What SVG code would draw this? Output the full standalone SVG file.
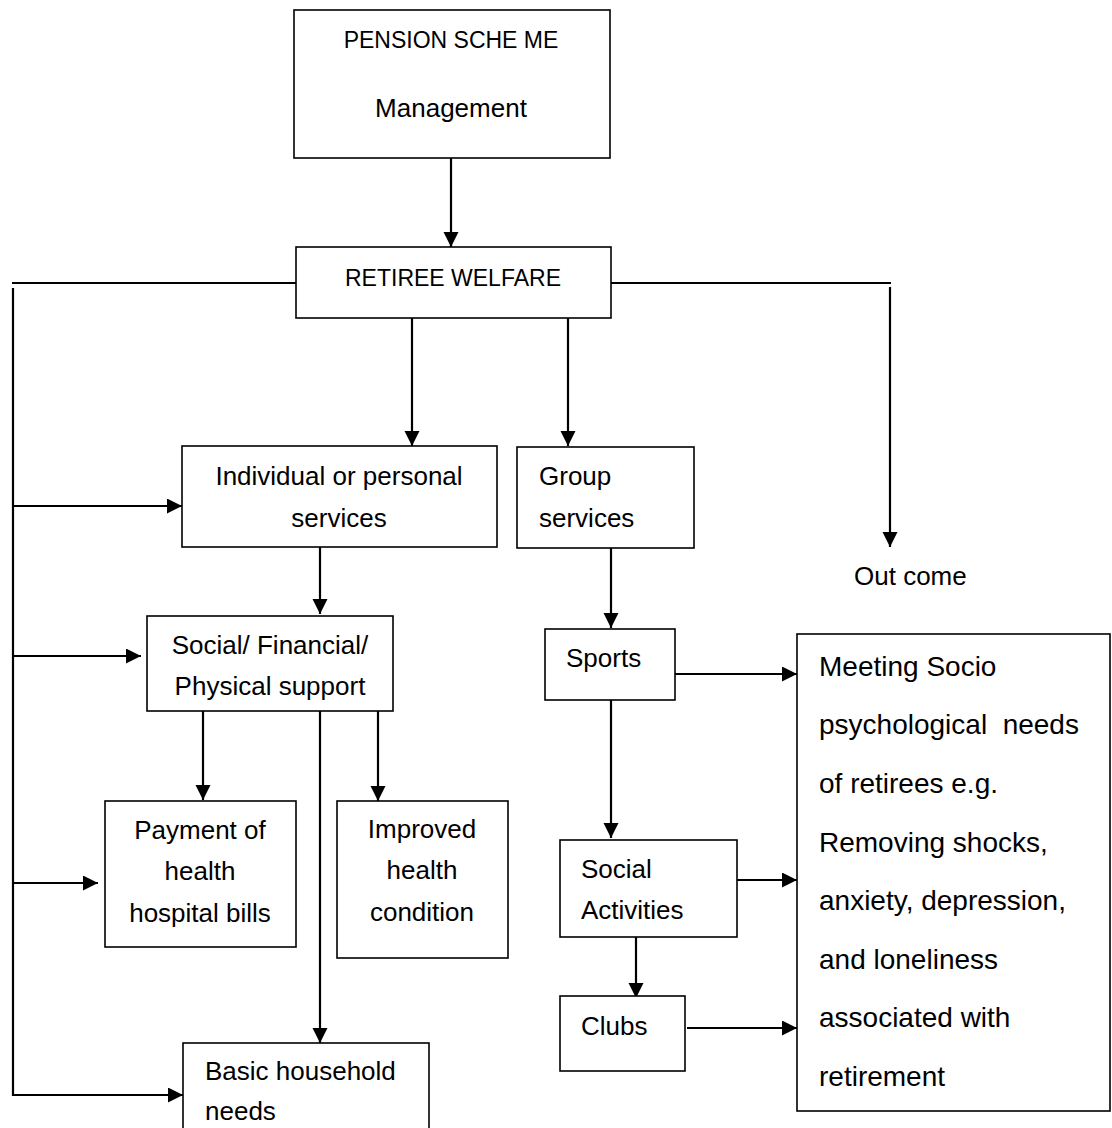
<svg xmlns="http://www.w3.org/2000/svg" width="1112" height="1128" viewBox="0 0 1112 1128">
<style>
.box{fill:#fff;stroke:#000;stroke-width:1.6}
.ln{fill:none;stroke:#000;stroke-width:2.2}
.t{font-family:"Liberation Sans",Arial,sans-serif;font-size:26px;fill:#000}
.c{text-anchor:middle}
.cap{font-size:23px}
.big{font-size:28px}
</style>
<defs>
<marker id="ah" markerUnits="userSpaceOnUse" markerWidth="16" markerHeight="16" refX="15" refY="7.5" orient="auto">
<path d="M0,0 L15,7.5 L0,15 z" fill="#000"/>
</marker>
</defs>
<rect width="1112" height="1128" fill="#fff"/>
<g id="connectors">
<line class="ln" x1="451" y1="158" x2="451" y2="247" marker-end="url(#ah)"/>
<line class="ln" x1="12" y1="283" x2="296" y2="283"/>
<line class="ln" x1="13" y1="288" x2="13" y2="1096"/>
<line class="ln" x1="13" y1="506" x2="182" y2="506" marker-end="url(#ah)"/>
<line class="ln" x1="13" y1="656" x2="141" y2="656" marker-end="url(#ah)"/>
<line class="ln" x1="13" y1="883" x2="98" y2="883" marker-end="url(#ah)"/>
<line class="ln" x1="13" y1="1095" x2="183" y2="1095" marker-end="url(#ah)"/>
<line class="ln" x1="611" y1="283" x2="891" y2="283"/>
<line class="ln" x1="890" y1="287" x2="890" y2="547" marker-end="url(#ah)"/>
<line class="ln" x1="412" y1="318" x2="412" y2="446" marker-end="url(#ah)"/>
<line class="ln" x1="568" y1="318" x2="568" y2="446" marker-end="url(#ah)"/>
<line class="ln" x1="320" y1="547" x2="320" y2="614" marker-end="url(#ah)"/>
<line class="ln" x1="203" y1="711" x2="203" y2="800" marker-end="url(#ah)"/>
<line class="ln" x1="378" y1="711" x2="378" y2="801" marker-end="url(#ah)"/>
<line class="ln" x1="320" y1="711" x2="320" y2="1043" marker-end="url(#ah)"/>
<line class="ln" x1="611" y1="548" x2="611" y2="628" marker-end="url(#ah)"/>
<line class="ln" x1="611" y1="700" x2="611" y2="838" marker-end="url(#ah)"/>
<line class="ln" x1="636" y1="937" x2="636" y2="998" marker-end="url(#ah)"/>
<line class="ln" x1="675" y1="674" x2="797" y2="674" marker-end="url(#ah)"/>
<line class="ln" x1="737" y1="880" x2="797" y2="880" marker-end="url(#ah)"/>
<line class="ln" x1="687" y1="1028" x2="797" y2="1028" marker-end="url(#ah)"/>
</g>
<g id="pension">
<rect class="box" x="294" y="10" width="316" height="148"/>
<text class="t c cap" x="451" y="48">PENSION SCHE ME</text>
<text class="t c" x="451" y="117">Management</text>
</g>
<g id="welfare">
<rect class="box" x="296" y="247" width="315" height="71"/>
<text class="t c cap" x="453" y="286">RETIREE WELFARE</text>
</g>
<g id="individual">
<rect class="box" x="182" y="446" width="315" height="101"/>
<text class="t c" x="339" y="485">Individual or personal</text>
<text class="t c" x="339" y="527">services</text>
</g>
<g id="group">
<rect class="box" x="517" y="447" width="177" height="101"/>
<text class="t" x="539" y="485">Group</text>
<text class="t" x="539" y="527">services</text>
</g>
<g id="outcome">
<text class="t" x="854" y="585">Out come</text>
</g>
<g id="support">
<rect class="box" x="147" y="616" width="246" height="95"/>
<text class="t c" x="270" y="654">Social/ Financial/</text>
<text class="t c" x="270" y="695">Physical support</text>
</g>
<g id="payment">
<rect class="box" x="105" y="801" width="191" height="146"/>
<text class="t c" x="200" y="839">Payment of</text>
<text class="t c" x="200" y="880">health</text>
<text class="t c" x="200" y="922">hospital bills</text>
</g>
<g id="improved">
<rect class="box" x="337" y="801" width="171" height="157"/>
<text class="t c" x="422" y="838">Improved</text>
<text class="t c" x="422" y="879">health</text>
<text class="t c" x="422" y="921">condition</text>
</g>
<g id="basic">
<rect class="box" x="183" y="1043" width="246" height="95"/>
<text class="t" x="205" y="1080">Basic household</text>
<text class="t" x="205" y="1120">needs</text>
</g>
<g id="sports">
<rect class="box" x="545" y="629" width="130" height="71"/>
<text class="t" x="566" y="667">Sports</text>
</g>
<g id="social">
<rect class="box" x="560" y="840" width="177" height="97"/>
<text class="t" x="581" y="878">Social</text>
<text class="t" x="581" y="919">Activities</text>
</g>
<g id="clubs">
<rect class="box" x="560" y="996" width="125" height="75"/>
<text class="t" x="581" y="1035">Clubs</text>
</g>
<g id="meeting">
<rect class="box" x="797" y="634" width="313" height="477"/>
<text class="t big" x="819" y="676">Meeting Socio</text>
<text class="t big" x="819" y="734" xml:space="preserve">psychological  needs</text>
<text class="t big" x="819" y="793">of retirees e.g.</text>
<text class="t big" x="819" y="852">Removing shocks,</text>
<text class="t big" x="819" y="910">anxiety, depression,</text>
<text class="t big" x="819" y="969">and loneliness</text>
<text class="t big" x="819" y="1027">associated with</text>
<text class="t big" x="819" y="1086">retirement</text>
</g>
</svg>
